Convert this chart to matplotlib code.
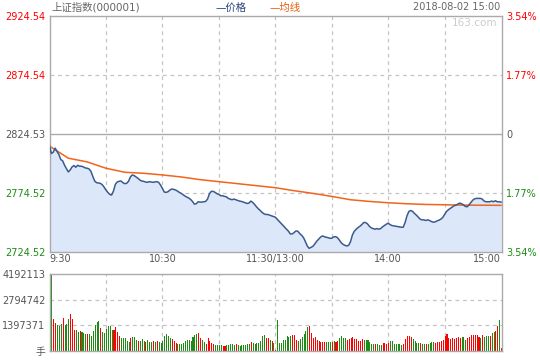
import matplotlib
matplotlib.use('Agg')
import matplotlib.pyplot as plt
import numpy as np

plt.rcParams['font.family'] = ['DejaVu Sans', 'Noto Sans CJK SC']

# ---------------- data ----------------
prev_close = 2824.53
price_ticks = [2724.52, 2774.52, 2824.53, 2874.54, 2924.54]
pct_labels = ['3.54%', '1.77%', '0', '1.77%', '3.54%']
vol_ticks = [0, 1397371, 2794742, 4192113]
vol_tick_labels = ['手', '1397371', '2794742', '4192113']
time_pos = [0, 60, 120, 180, 240]
time_labels = ['9:30', '10:30', '11:30/13:00', '14:00', '15:00']

price = [
    2814.56, 2807.74, 2808.88, 2812.29, 2809.45, 2806.89, 2802.63, 2801.49, 2797.80, 2794.96,
    2792.12, 2793.83, 2796.38, 2797.52, 2796.10, 2797.80, 2796.95, 2796.95, 2796.38, 2795.53,
    2795.25, 2794.68, 2792.69, 2788.43, 2784.45, 2783.03, 2782.75, 2782.47, 2781.33, 2779.34,
    2776.79, 2774.80, 2773.09, 2772.52, 2775.93, 2781.61, 2783.60, 2784.17, 2784.45, 2783.03,
    2782.18, 2782.47, 2784.17, 2787.86, 2789.57, 2789.00, 2787.86, 2786.73, 2785.31, 2784.45,
    2784.17, 2783.60, 2783.32, 2783.89, 2783.60, 2783.32, 2783.60, 2783.89, 2783.32, 2781.05,
    2778.21, 2775.08, 2774.80, 2775.37, 2776.79, 2777.64, 2777.36, 2776.79, 2775.93, 2774.80,
    2773.95, 2772.81, 2771.67, 2770.82, 2769.97, 2768.83, 2767.13, 2764.86, 2765.14, 2766.85,
    2766.56, 2766.56, 2766.85, 2767.13, 2769.12, 2773.66, 2775.65, 2775.65, 2774.80, 2773.66,
    2773.09, 2771.96, 2771.96, 2771.39, 2771.11, 2769.69, 2769.12, 2768.55, 2769.12, 2768.55,
    2767.98, 2767.41, 2767.13, 2766.56, 2765.99, 2765.43, 2765.71, 2767.41, 2766.28, 2764.57,
    2762.59, 2760.88, 2759.46, 2757.76, 2756.62, 2756.05, 2756.05, 2755.49, 2754.92, 2754.35,
    2753.78, 2752.08, 2750.37, 2748.67, 2746.97, 2745.26, 2743.56, 2741.85, 2739.58, 2739.58,
    2740.72, 2742.14, 2741.85, 2739.87, 2738.45, 2736.46, 2733.05, 2729.36, 2727.37, 2728.22,
    2729.07, 2731.06, 2733.34, 2735.04, 2736.74, 2737.88, 2737.31, 2736.74, 2736.46, 2735.89,
    2735.89, 2737.03, 2737.31, 2736.46, 2734.47, 2732.20, 2730.78, 2729.93, 2729.36, 2729.93,
    2733.05, 2738.73, 2741.85, 2743.56, 2744.98, 2746.11, 2747.53, 2749.24, 2749.24, 2748.10,
    2746.11, 2744.69, 2744.13, 2743.56, 2744.13, 2743.56, 2744.13, 2745.55, 2746.68, 2747.82,
    2748.67, 2747.53, 2746.68, 2746.40, 2746.11, 2745.83, 2745.55, 2745.26, 2745.26, 2749.24,
    2754.92, 2758.61, 2759.46, 2758.61, 2756.91, 2755.49, 2753.78, 2752.08, 2751.51, 2751.51,
    2750.94, 2751.51, 2750.94, 2750.09, 2749.52, 2749.81, 2750.66, 2751.23, 2752.08, 2753.50,
    2756.05, 2758.61, 2760.03, 2761.17, 2762.30, 2763.44, 2764.01, 2764.86, 2765.71, 2765.14,
    2764.29, 2762.87, 2762.59, 2764.29, 2766.28, 2768.27, 2769.40, 2769.69, 2769.69, 2769.69,
    2769.12, 2767.41, 2766.85, 2766.85, 2766.85, 2767.41, 2766.85, 2767.70, 2766.85, 2766.85,
    2766.56,
]

avg_minutes = list(range(0, 241, 10))
avg_price = [
    2814.0, 2803.77, 2800.64, 2795.25, 2791.84, 2790.99, 2789.57, 2787.86, 2785.59, 2783.89,
    2782.18, 2780.48, 2778.77, 2776.22, 2773.95, 2771.39, 2768.55, 2767.13, 2766.0, 2765.14,
    2764.57, 2764.29, 2764.0, 2763.9, 2763.8,
]

volume = [
    1143000, 4192113, 1724000, 1525000, 1398000, 1361000, 1452000, 1797000, 1398000, 1470000,
    1742000, 2015000, 1742000, 1143000, 1143000, 1035000, 1071000, 1035000, 980000, 926000,
    889000, 926000, 817000, 1089000, 1416000, 1579000, 1634000, 1252000, 1035000, 980000,
    1198000, 1361000, 1361000, 1143000, 1143000, 1307000, 1035000, 817000, 708000, 708000,
    708000, 545000, 490000, 708000, 762000, 762000, 599000, 545000, 545000, 653000,
    545000, 490000, 599000, 490000, 490000, 545000, 490000, 545000, 490000, 436000,
    545000, 817000, 926000, 817000, 708000, 653000, 545000, 436000, 381000, 381000,
    381000, 436000, 545000, 599000, 599000, 545000, 762000, 871000, 926000, 980000,
    708000, 599000, 490000, 381000, 708000, 545000, 436000, 381000, 327000, 327000,
    327000, 327000, 272000, 272000, 327000, 327000, 381000, 381000, 327000, 381000,
    327000, 272000, 327000, 327000, 327000, 381000, 381000, 490000, 436000, 381000,
    436000, 436000, 545000, 817000, 871000, 708000, 708000, 599000, 545000, 436000,
    54000, 1688000, 436000, 436000, 599000, 599000, 817000, 762000, 817000, 871000,
    871000, 599000, 545000, 653000, 762000, 926000, 1089000, 1307000, 1361000, 980000,
    708000, 762000, 599000, 545000, 490000, 490000, 490000, 490000, 490000, 490000,
    490000, 545000, 490000, 545000, 708000, 817000, 708000, 708000, 599000, 653000,
    708000, 762000, 653000, 653000, 545000, 545000, 653000, 599000, 599000, 599000,
    490000, 381000, 381000, 381000, 381000, 327000, 327000, 436000, 436000, 381000,
    436000, 545000, 545000, 381000, 381000, 381000, 381000, 327000, 381000, 653000,
    817000, 817000, 762000, 653000, 545000, 436000, 436000, 436000, 381000, 381000,
    381000, 381000, 436000, 490000, 490000, 436000, 490000, 490000, 545000, 599000,
    817000, 926000, 708000, 653000, 708000, 653000, 708000, 762000, 708000, 762000,
    762000, 599000, 708000, 762000, 871000, 871000, 871000, 871000, 762000, 708000,
    871000, 762000, 817000, 817000, 817000, 980000, 1035000, 1089000, 1361000, 1688000,
    163000,
]

# R = up minute (red), G = down minute (green); one letter per bar
vol_dir = (
    "GGRRGGGRGG" "GRRRGGRGGG" "RGGGGGGRGG" "GGGGRRRRGG"
    "GGGRGGGRGG" "GRGGGRGRGG" "GGGGGRRRGG" "GGGGGGGGGR"
    "RGGRRRRRGG" "GGRRGGGGGR" "GGGGGGGRGG" "GGGGGRRGRG"
    "RGGGGGGGGR" "RRGGGGGGRR" "RRRRRRRGGG" "RGRRGGGGRR"
    "RRRRRRRGGG" "GGGRGGGRRR" "RGGGGGGGRR" "RRRGGGGRGG"
    "RGGGGRRRRR" "RRRRRRRRRG" "GGRRRRRRRG" "RGGGRGGRRG"
    "R"
)

minutes = np.arange(len(price))

# ---------------- figure ----------------
W, H = 540, 360
fig = plt.figure(figsize=(W / 100, H / 100), dpi=100)
fig.patch.set_facecolor('white')

ax = fig.add_axes([49.5 / W, (H - 251.7) / H, 452.5 / W, 236.0 / H])
axv = fig.add_axes([49.5 / W, (H - 350.7) / H, 452.5 / W, 76.4 / H])

spine_c = '#aaaaaa'
grid_c = '#c4c4c4'
red = '#ff0000'
green = '#1e8c14'
grey = '#555555'
fs = 7

for a in (ax, axv):
    for s in a.spines.values():
        s.set_color(spine_c)
        s.set_linewidth(1.0)
    a.set_xlim(0, 240.5)
    a.tick_params(length=0)
    for m in range(30, 240, 30):
        a.axvline(m, color=grid_c, lw=0.9, ls=(0, (3, 3)), zorder=0)

# price panel
ax.set_ylim(price_ticks[0], price_ticks[-1])
ax.axhline(price_ticks[1], color=grid_c, lw=0.9, ls=(0, (3, 3)), zorder=0)
ax.axhline(price_ticks[3], color=grid_c, lw=0.9, ls=(0, (3, 3)), zorder=0)
ax.axhline(prev_close, color='#aaaaaa', lw=1.0, zorder=0)

ax.fill_between(minutes, price, price_ticks[0], color='#dce8fa', lw=0, zorder=1)
ax.plot(minutes, price, color='#3b5a8c', lw=1.1, zorder=3)
ax.plot(avg_minutes, avg_price, color='#f0641c', lw=1.1, zorder=2)

ax.set_yticks(price_ticks)
ax.set_yticklabels(['%.2f' % v for v in price_ticks], fontsize=fs)
lab_colors = [green, green, grey, red, red]
for t, c in zip(ax.get_yticklabels(), lab_colors):
    t.set_color(c)
ax.tick_params(axis='y', pad=3)

ax.set_xticks(time_pos)
ax.set_xticklabels(time_labels, fontsize=fs, color=grey)
ax.tick_params(axis='x', pad=2)
xl = ax.get_xticklabels()
xl[0].set_horizontalalignment('left')
xl[-1].set_horizontalalignment('right')

axr = ax.twinx()
axr.set_ylim(ax.get_ylim())
axr.set_yticks(price_ticks)
axr.set_yticklabels(pct_labels, fontsize=fs)
for t, c in zip(axr.get_yticklabels(), lab_colors):
    t.set_color(c)
axr.tick_params(length=0, pad=3)
for s in axr.spines.values():
    s.set_visible(False)

# volume panel
axv.set_ylim(0, vol_ticks[-1])
for v in vol_ticks[1:3]:
    axv.axhline(v, color=grid_c, lw=0.9, ls=(0, (3, 3)), zorder=0)
bar_cols = [red if d == 'R' else green for d in vol_dir]
axv.bar(minutes, volume, width=0.55, align='edge', color=bar_cols, lw=0, zorder=2)
axv.set_yticks(vol_ticks)
axv.set_yticklabels(vol_tick_labels, fontsize=fs, color=grey)
axv.tick_params(axis='y', pad=3)
axv.set_xticks([])

# header texts
fig.text(51 / W, 1 - 7.5 / H, '上证指数(000001)', fontsize=7.5, color='#666666', va='center', ha='left')
fig.text(215 / W, 1 - 7.5 / H, '—价格', fontsize=7.5, color='#23427a', va='center', ha='left')
fig.text(270 / W, 1 - 7.5 / H, '—均线', fontsize=7.5, color='#e8600f', va='center', ha='left')
fig.text(500 / W, 1 - 7.5 / H, '2018-08-02 15:00', fontsize=7, color='#666666', va='center', ha='right')
fig.text(497 / W, 1 - 23 / H, '163.com', fontsize=7.5, color='#cccccc', va='center', ha='right')

fig.savefig('out.png', dpi=100, facecolor='white')
